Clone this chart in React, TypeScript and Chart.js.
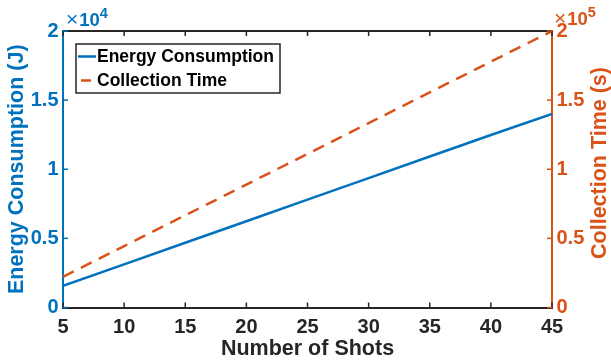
import React, { useEffect, useRef } from "react";
import { Chart, registerables } from "chart.js";

Chart.register(...registerables);

const shots = [5, 10, 15, 20, 25, 30, 35, 40, 45];
const energyJ = [1560, 3120, 4680, 6240, 7800, 9360, 10920, 12480, 14000];
const collectionTimeS = [22200, 44400, 66700, 88900, 111100, 133300, 155600, 177800, 200000];
const xTicks = [5, 10, 15, 20, 25, 30, 35, 40, 45];
const leftTicks = [0, 5000, 10000, 15000, 20000];
const rightTicks = [0, 50000, 100000, 150000, 200000];

const BLUE = "#0072BD";
const ORANGE = "#D95319";
const DARK = "#262626";
const FAMILY = '"Liberation Sans", Arial, Helvetica, sans-serif';

const decorPlugin = {
  id: "decor",
  afterDatasetsDraw(chart: any) {
    const { ctx, chartArea, scales } = chart;
    const { left, right, top, bottom } = chartArea;
    ctx.save();
    // top border
    ctx.strokeStyle = DARK;
    ctx.lineWidth = 2;
    ctx.beginPath();
    ctx.moveTo(left, top);
    ctx.lineTo(right, top);
    ctx.stroke();
    // x ticks inward (bottom and top)
    const tl = 5;
    ctx.lineWidth = 1.5;
    xTicks.forEach((v) => {
      const px = scales.x.getPixelForValue(v);
      ctx.beginPath();
      ctx.moveTo(px, bottom);
      ctx.lineTo(px, bottom - tl);
      ctx.moveTo(px, top);
      ctx.lineTo(px, top + tl);
      ctx.stroke();
    });
    // left ticks
    ctx.strokeStyle = BLUE;
    leftTicks.forEach((v) => {
      const py = scales.y.getPixelForValue(v);
      ctx.beginPath();
      ctx.moveTo(left, py);
      ctx.lineTo(left + tl, py);
      ctx.stroke();
    });
    ctx.strokeStyle = ORANGE;
    rightTicks.forEach((v) => {
      const py = scales.y1.getPixelForValue(v);
      ctx.beginPath();
      ctx.moveTo(right, py);
      ctx.lineTo(right - tl, py);
      ctx.stroke();
    });

    // exponent labels
    const drawExp = (x: number, base: number, exp: string, color: string) => {
      ctx.fillStyle = color;
      ctx.textBaseline = "alphabetic";
      ctx.textAlign = "left";
      ctx.font = `21px ${FAMILY}`;
      ctx.fillText("\u00d7", x, base);
      const w1 = ctx.measureText("\u00d7").width;
      ctx.font = `bold 18.5px ${FAMILY}`;
      ctx.fillText("10", x + w1 + 1, base);
      const w2 = ctx.measureText("10").width;
      ctx.font = `bold 14.5px ${FAMILY}`;
      ctx.fillText(exp, x + w1 + 1 + w2, base - 8);
    };
    drawExp(66, 26, "4", BLUE);
    drawExp(554, 25, "5", ORANGE);

    // right axis title (reads bottom to top)
    ctx.save();
    ctx.translate(600.5, 163);
    ctx.rotate(-Math.PI / 2);
    ctx.fillStyle = ORANGE;
    ctx.font = `bold 21.5px ${FAMILY}`;
    ctx.textAlign = "center";
    ctx.textBaseline = "middle";
    ctx.fillText("Collection Time (s)", 0, 0);
    ctx.restore();

    // legend
    const bx = 76, by = 44, bw = 204, bh = 49;
    ctx.fillStyle = "#ffffff";
    ctx.fillRect(bx, by, bw, bh);
    ctx.strokeStyle = DARK;
    ctx.lineWidth = 1.5;
    ctx.strokeRect(bx, by, bw, bh);
    const ds = chart.data.datasets;
    const rows = [56.5, 80.5];
    ds.forEach((d: any, i: number) => {
      const y = rows[i];
      ctx.strokeStyle = d.borderColor;
      ctx.lineWidth = 2.5;
      ctx.setLineDash([]);
      ctx.beginPath();
      if (i === 0) {
        ctx.moveTo(78, y);
        ctx.lineTo(96, y);
      } else {
        ctx.moveTo(81, y);
        ctx.lineTo(91, y);
      }
      ctx.stroke();
      ctx.fillStyle = "#000000";
      ctx.font = `bold 17.5px ${FAMILY}`;
      ctx.textAlign = "left";
      ctx.textBaseline = "middle";
      ctx.fillText(d.label, 97, y + 1);
    });
    ctx.restore();
  },
};

export default function App() {
  const ref = useRef<HTMLCanvasElement | null>(null);
  useEffect(() => {
    document.body.style.margin = "0";
    const canvas = ref.current;
    if (!canvas) return;
    const chart = new Chart(canvas, {
      type: "line",
      data: {
        datasets: [
          {
            label: "Energy Consumption",
            data: shots.map((s, i) => ({ x: s, y: energyJ[i] })),
            borderColor: BLUE,
            backgroundColor: BLUE,
            borderWidth: 2.5,
            pointRadius: 0,
            yAxisID: "y",
          },
          {
            label: "Collection Time",
            data: shots.map((s, i) => ({ x: s, y: collectionTimeS[i] })),
            borderColor: ORANGE,
            backgroundColor: ORANGE,
            borderWidth: 2.5,
            borderDash: [12, 8],
            pointRadius: 0,
            yAxisID: "y1",
          },
        ],
      },
      options: {
        animation: false,
        responsive: false,
        devicePixelRatio: 1,
        layout: { padding: { top: 31, left: 0, right: 0, bottom: 0 } },
        plugins: { legend: { display: false }, tooltip: { enabled: false } },
        scales: {
          x: {
            type: "linear",
            min: 5,
            max: 45,
            afterBuildTicks: (s: any) => {
              s.ticks = xTicks.map((v) => ({ value: v }));
            },
            afterFit: (s: any) => {
              s.height = 56.5;
            },
            grid: { display: false, drawTicks: false },
            border: { display: true, color: DARK, width: 2 },
            ticks: {
              color: DARK,
              padding: 8,
              maxRotation: 0,
              font: { family: FAMILY, size: 20, weight: "bold" },
            },
            title: {
              display: true,
              text: "Number of Shots",
              color: DARK,
              font: { family: FAMILY, size: 21.5, weight: "bold", lineHeight: 1 },
              padding: { top: 0, bottom: 4 },
            },
          },
          y: {
            type: "linear",
            position: "left",
            min: 0,
            max: 20000,
            afterBuildTicks: (s: any) => {
              s.ticks = leftTicks.map((v) => ({ value: v }));
            },
            afterFit: (s: any) => {
              s.width = 63;
            },
            grid: { display: false, drawTicks: false },
            border: { display: true, color: BLUE, width: 2 },
            ticks: {
              color: BLUE,
              padding: 4.5,
              callback: (v: any) => String(Number(v) / 10000),
              font: { family: FAMILY, size: 20, weight: "bold" },
            },
            title: {
              display: true,
              text: "Energy Consumption (J)",
              color: BLUE,
              font: { family: FAMILY, size: 21.5, weight: "bold", lineHeight: 1 },
              padding: { top: 6.5, bottom: 0 },
            },
          },
          y1: {
            type: "linear",
            position: "right",
            min: 0,
            max: 200000,
            afterBuildTicks: (s: any) => {
              s.ticks = rightTicks.map((v) => ({ value: v }));
            },
            afterFit: (s: any) => {
              s.width = 59;
            },
            grid: { display: false, drawTicks: false },
            border: { display: true, color: ORANGE, width: 2 },
            ticks: {
              color: ORANGE,
              padding: 4.5,
              callback: (v: any) => String(Number(v) / 100000),
              font: { family: FAMILY, size: 20, weight: "bold" },
            },
          },
        },
      },
      plugins: [decorPlugin],
    });
    return () => chart.destroy();
  }, []);
  return (
    <div style={{ width: 611, height: 364 }}>
      <canvas ref={ref} width={611} height={364} />
    </div>
  );
}
